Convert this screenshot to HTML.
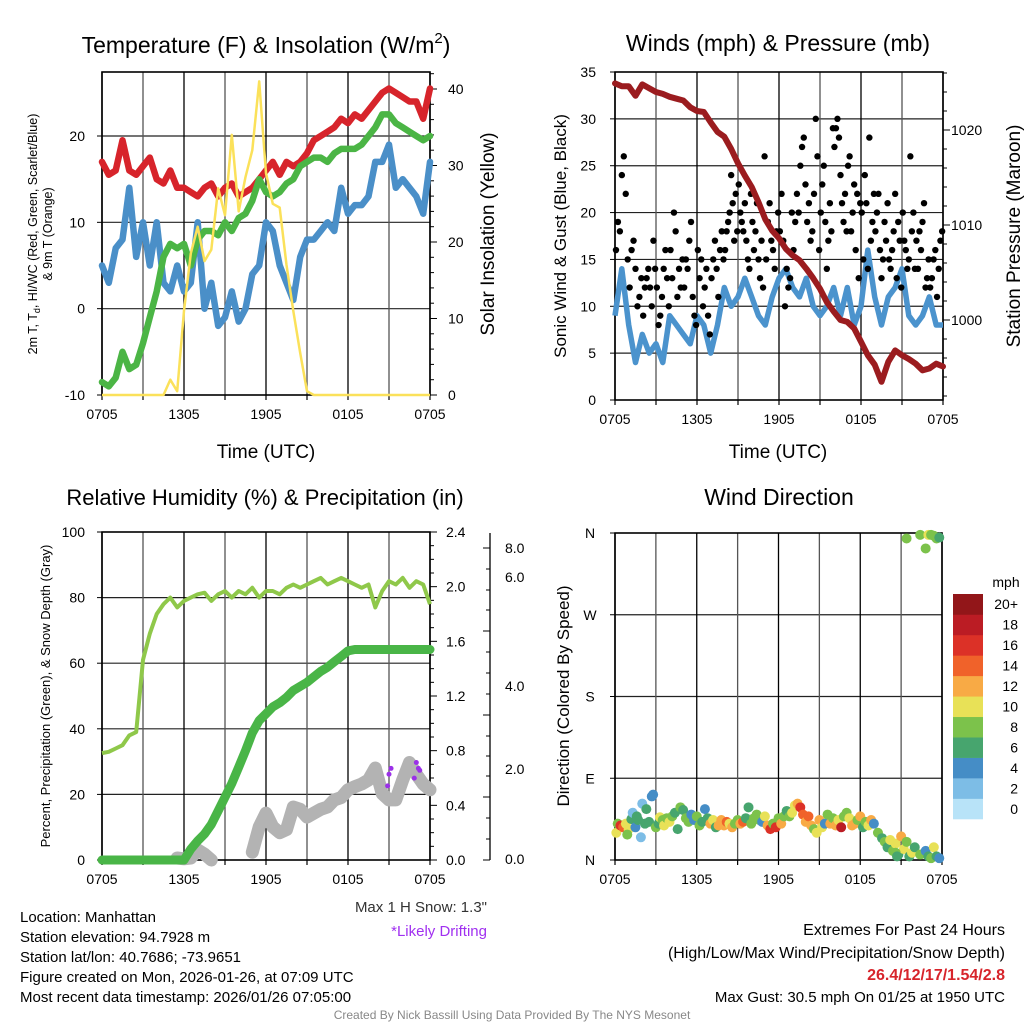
<!DOCTYPE html>
<html><head><meta charset="utf-8"><style>
body{margin:0;background:#fff;}
svg{display:block;font-family:"Liberation Sans",Arial,sans-serif;}
</style></head><body>
<svg id="s" width="1024" height="1024" xmlns="http://www.w3.org/2000/svg"></svg>
<script>
// ---------- DATA ----------
const timeLabels = ["0705","1305","1905","0105","0705"];
const tempRed = [17,15.5,16,19.5,16,15.5,16.5,17.5,15,14.5,16,14,14,13.5,13,14,14.5,13,14,14.5,13,13.5,14,15,16,17,15.5,17,16.5,17,18,19.5,20,20.5,21,22,21.5,22.5,22,23,24,25,25.5,25,24.5,24,24,22,25.5];
const tempGreen = [-8.5,-9,-8,-5,-7,-6.5,-4,-1,2,6,7.5,7,7.5,5,8,9,9,8.5,10,9,10.5,11,12.5,15,13.5,13,13.5,14.5,15,16.5,17,17.5,17.5,17,18,18.5,18.5,18.5,19,20,21,22.5,22.5,21.5,21,20.5,20,19.5,20];
const tempBlue = [5,3,7,8,14,6,10,5,10,3,2,5,2,3,10,0,3,-2,-1,2,-1.5,0,4,5,10,9,5,3,1,6,8,8,9,10,9,14,11,12,12,13,17,17,19,14,15,14,13,11,17];
const insol = [0,0,0,0,0,0,0,0,0,0,2,0.5,11,18.5,22,17.5,19,27,23.5,34,24,28.5,32,41,29,25,24.5,17,11,5.5,0.5,0,0,0,0,0,0,0,0,0,0,0,0,0,0,0,0,0,0];
const windSonic = [9,14,8,4,7,5,6,4,9,8,7,6,9,8,5,8,12,10,11,13,11,9,8,11,13,14,12,11,13,10,9,10,12,9,12,8,10,16,11,8,11,12,14,9,8,9,11,8,8];
const pressure = [1024.9,1024.6,1024.6,1023.6,1024.8,1024.4,1024,1023.8,1023.5,1023.3,1023.1,1022.4,1022,1021.9,1020.8,1019.8,1019.3,1018,1016.5,1015.2,1014,1012.4,1010.6,1009.4,1008.6,1007.5,1006.8,1006.3,1005.4,1004.4,1003.3,1001.9,1000.9,1000,999.8,999.1,997.7,996.3,995.3,993.5,995.6,996.8,996.3,995.9,995.4,994.7,994.9,995.4,995.1];
const gustByHour = [
[16,19,18,24,26,22,15],[12,16,17,14,10,11,13],[9,12,13,14,12,10,17,14],[12,8,9,11,14,16,13,10],
[16,13,20,18,11,14,12,15],[12,15,14,17,19,11,9,8],[16,13,15,10,12,14,9,7],[13,15,17,14,11,16,18,15],
[16,18,19,20,24,21,17,22,18],[23,20,19,18,21,17,15,14,22],[19,16,18,21,15,13,17,12,26],[15,19,21,17,16,14,18,20],
[18,22,17,10,14,12,13,20],[16,19,22,20,25,27,28,23],[19,21,17,18,22,30,26,16],[20,23,25,19,14,17,21,18,29],
[27,29,30,28,24,21,19,22,18],[25,26,18,20,23,16,22,13,21],[20,15,24,21,14,28,17,19,22],[18,20,22,16,13,15,19,17,21],
[15,14,16,18,22,13,19,17,12],[20,17,16,14,15,26,18,20,14],[17,14,18,16,19,21,12,13,15],[12,13,15,16,11,14,17,18]];
const rh = [32.6,33,34,35,38,39,61,69,75,78,80,77,79,80,81,81.5,79,81,82,80,82,81,83,80,82,82,81,83,84,83,84,85,86,84,85,86,85,84,83,84,77,82,85,84,86,83,85,84,78];
const precip = [0,0,0,0,0,0,0,0,0,0,0,0,0,0.08,0.14,0.19,0.26,0.36,0.46,0.56,0.68,0.8,0.93,1.02,1.07,1.12,1.15,1.19,1.24,1.27,1.3,1.34,1.38,1.41,1.45,1.49,1.53,1.54,1.54,1.54,1.54,1.54,1.54,1.54,1.54,1.54,1.54,1.54,1.54];
const snowDepth = [null,null,null,null,null,null,null,null,null,null,null,0.05,0.03,0.05,0.26,0.15,0.0,null,null,null,null,null,0.2,0.85,1.2,0.85,0.7,0.78,1.36,1.3,1.1,1.2,1.3,1.36,1.54,1.6,1.8,1.88,1.95,2.05,2.36,1.7,1.54,1.54,2.05,2.5,2.2,1.95,1.8];
const driftIdx = [42,42.3,41.8,46,46.3,45.7,46.5];
const driftVal = [2.2,2.35,1.9,2.5,2.35,2.1,2.3];
const dirHour = [0.1,0.2,0.4,0.6,0.8,1.0,0.9,1.2,1.3,1.5,1.6,1.7,1.9,2.0,2.2,2.3,2.5,2.7,2.8,3.0,3.2,3.3,3.5,3.6,3.8,4.0,4.2,4.4,4.6,4.8,5.0,5.2,5.4,5.6,5.8,6.0,6.2,6.4,6.6,6.8,7.0,7.2,7.4,7.6,7.8,8.0,8.2,8.4,8.6,8.8,9.0,9.2,9.4,9.6,9.8,10.0,10.2,10.4,10.6,10.8,11.0,11.2,11.4,11.6,11.8,12.0,12.2,12.4,12.6,12.8,13.0,13.2,13.4,13.6,13.8,14.0,14.2,14.4,14.6,14.8,15.0,15.2,15.4,15.6,15.8,16.0,16.2,16.4,16.6,16.8,17.0,17.2,17.4,17.6,17.8,18.0,18.2,18.4,18.6,18.8,19.0,19.3,19.6,19.8,20.0,20.2,20.4,20.6,20.8,21.0,21.2,21.4,21.6,21.8,22.0,22.4,22.8,23.0,23.2,23.4,23.6,23.8,20.6,20.7,21.4,22.4,22.8,23.0,23.2,23.4,23.6,23.8];
const dirDeg = [30,40,38,36,40,34,28,45,52,36,48,44,25,62,40,56,42,70,72,36,40,47,44,38,46,42,48,52,34,58,55,46,42,50,44,48,38,42,56,46,40,44,36,38,44,38,42,40,36,40,44,40,42,46,58,40,46,50,44,42,48,38,34,40,36,46,40,48,54,48,52,60,62,58,50,42,48,38,34,30,44,36,40,50,40,46,38,44,36,48,52,46,38,40,44,48,36,42,38,44,40,30,24,20,14,22,10,18,6,26,12,20,4,8,14,6,10,4,2,14,4,2,8,4,354,358,343,358,358,357,354,355,352,356];
const dirSpd = [10,9,17,14,10,11,8,6,3,4,6,6,2,2,7,6,6,4,4,8,6,10,8,10,8,10,8,6,6,8,6,8,9,4,4,8,8,6,4,6,12,10,6,12,12,12,14,10,12,8,8,12,14,6,6,8,8,8,8,4,10,12,16,8,16,8,12,8,6,8,10,10,12,16,14,12,14,12,8,10,12,10,4,8,12,8,12,10,18,8,8,10,12,12,8,12,6,8,10,12,4,8,6,8,6,10,8,10,6,12,10,8,6,10,6,8,4,6,8,10,6,4,8,6,8,8,8,10,8,8,8,6,8,8];
const cbLabels = ["0","2","4","6","8","10","12","14","16","18","20+"];
const cbColors = ["#b8e3f8","#7dbde6","#458dc6","#47a56e","#7cc24b","#e8e157","#f8aa45","#f0622a","#dc3127","#bb1c24","#921619"];

// ---------- HELPERS ----------
const NS="http://www.w3.org/2000/svg";
const S=document.getElementById('s');
function el(tag,attrs,parent){const e=document.createElementNS(NS,tag);for(const k in attrs)e.setAttribute(k,attrs[k]);(parent||S).appendChild(e);return e;}
function txt(x,y,str,size,anchor,parent,extra){const t=el('text',Object.assign({x:x,y:y,'font-size':size,'text-anchor':anchor||'middle',fill:'#000'},extra||{}),parent);t.textContent=str;return t;}
function lin(d0,d1,r0,r1){return v=>r0+(v-d0)*(r1-r0)/(d1-d0);}
function pathFrom(arr,fx,fy){let d='',pen=false;arr.forEach((v,i)=>{if(v===null||v===undefined){pen=false;return;}d+=(pen?'L':'M')+fx(i).toFixed(1)+' '+fy(v).toFixed(1);pen=true;});return d;}

function frame(g,L,T,R,B){
  const n=8;
  for(let k=0;k<=n;k++){const x=L+(R-L)*k/n;el('line',{x1:x,y1:T,x2:x,y2:B,stroke:k%2?'#555':'#000','stroke-width':1.3},g);
    el('line',{x1:x,y1:B,x2:x,y2:B+5,stroke:'#000','stroke-width':1.2},g);}
  el('rect',{x:L,y:T,width:R-L,height:B-T,fill:'none',stroke:'#000','stroke-width':1.6},g);
  timeLabels.forEach((s,k)=>{const t=txt(L+(R-L)*k/4,B+24,s,14,'middle',g);});
}
function hgrid(g,L,R,ys){ys.forEach(y=>el('line',{x1:L,y1:y,x2:R,y2:y,stroke:'#222','stroke-width':1.2},g));}

// ================= PANEL 1 =================
{
const g=el('g',{});

const L=102,R=430,T=72,B=395;
const fx=lin(0,48,L,R), fy=lin(-10,20,395,136), fyr=lin(0,40,395,89);
hgrid(g,L,R,[fy(0),fy(10),fy(20)]);
frame(g,L,T,R,B);
[20,10,0,-10].forEach(v=>{el('line',{x1:L-5,y1:fy(v),x2:L,y2:fy(v),stroke:'#000'},g);txt(85,fy(v)+5,v,14,'end',g);});
for(let v=0;v<=42;v+=2){el('line',{x1:R,y1:fyr(v),x2:R+(v%10?4:7),y2:fyr(v),stroke:'#000'},g);}
[0,10,20,30,40].forEach(v=>txt(448,fyr(v)+5,v,14,'start',g));
const red=el('path',{d:pathFrom(tempRed,fx,fy),fill:'none',stroke:'#d7242b','stroke-width':6.5,'stroke-linejoin':'round','stroke-linecap':'round'},g);

const blu=el('path',{d:pathFrom(tempBlue,fx,fy),fill:'none',stroke:'#4a8fc8','stroke-width':6.5,'stroke-linejoin':'round','stroke-linecap':'round'},g);

const grn=el('path',{d:pathFrom(tempGreen,fx,fy),fill:'none',stroke:'#4bb545','stroke-width':6.5,'stroke-linejoin':'round','stroke-linecap':'round'},g);

const yel=el('path',{d:pathFrom(insol,fx,fyr),fill:'none',stroke:'#fbe15a','stroke-width':2.5,'stroke-linejoin':'round'},g);

const t1=txt(266,53,'',23,'middle',g);t1.innerHTML='Temperature (F) &amp; Insolation (W/m<tspan font-size="15" dy="-10">2</tspan><tspan dy="10">)</tspan>';

const yl=el('text',{transform:'translate(37,234) rotate(-90)','font-size':12.5,'text-anchor':'middle'},g);
yl.innerHTML='2m T, T<tspan font-size="9" dy="3">d</tspan><tspan dy="-3">, HI/WC (Red, Green, Scarlet/Blue)</tspan>';

const yl2=el('text',{transform:'translate(52,234) rotate(-90)','font-size':12.5,'text-anchor':'middle'},g);yl2.textContent='& 9m T (Orange)';
const yr=el('text',{transform:'translate(494,234) rotate(-90)','font-size':19,'text-anchor':'middle'},g);yr.textContent='Solar Insolation (Yellow)';

const xt=txt(266,458,'Time (UTC)',19,'middle',g);
}

// ================= PANEL 2 =================
{
const g=el('g',{});

const L=615,R=943,T=72,B=400;
const fx=lin(0,48,L,R), fh=lin(0,24,L,R), fy=lin(0,35,400,72), fp=lin(1000,1020,320,130);
hgrid(g,L,R,[5,10,15,20,25,30].map(fy));
frame(g,L,T,R,B);
[0,5,10,15,20,25,30,35].forEach(v=>{el('line',{x1:L-5,y1:fy(v),x2:L,y2:fy(v),stroke:'#000'},g);txt(596,fy(v)+5,v,14,'end',g);});
for(let p=992;p<=1026;p+=2){const y=fp(p);if(y<T||y>B)continue;el('line',{x1:R,y1:y,x2:R+(p%10?4:7),y2:y,stroke:'#000'},g);}
[1000,1010,1020].forEach(p=>txt(951,fp(p)+5,p,14,'start',g));
const wl=el('path',{d:pathFrom(windSonic,fx,fy),fill:'none',stroke:'#4b93cd','stroke-width':5.5,'stroke-linejoin':'round'},g);

gustByHour.forEach((arr,h)=>arr.forEach((v,k)=>{
  const c=el('circle',{cx:fh(h+(k+0.5)/arr.length),cy:fy(v),r:3.2,fill:'#000'},g);
  
  
}));
const pl=el('path',{d:pathFrom(pressure,fx,fp),fill:'none',stroke:'#9b1c1f','stroke-width':6,'stroke-linejoin':'round','stroke-linecap':'round'},g);

const t=txt(778,51,'Winds (mph) & Pressure (mb)',23,'middle',g);
const yl=el('text',{transform:'translate(566,236) rotate(-90)','font-size':17,'text-anchor':'middle'},g);yl.textContent='Sonic Wind & Gust (Blue, Black)';

const yr=el('text',{transform:'translate(1020,236) rotate(-90)','font-size':19,'text-anchor':'middle'},g);yr.textContent='Station Pressure (Maroon)';

const xt=txt(778,458,'Time (UTC)',19,'middle',g);
}

// ================= PANEL 3 =================
{
const g=el('g',{});

const L=102,R=430,T=532,B=860;
const fx=lin(0,48,L,R), fy=lin(0,100,860,532), fr=lin(0,2.4,860,532), fs=lin(0,8,860,548);
hgrid(g,L,R,[20,40,60,80].map(fy));
frame(g,L,T,R,B);
[0,20,40,60,80,100].forEach(v=>{el('line',{x1:L-5,y1:fy(v),x2:L,y2:fy(v),stroke:'#000'},g);txt(85,fy(v)+5,v,14,'end',g);});
for(let v=0;v<=24;v++){el('line',{x1:R,y1:fr(v/10),x2:R+(v%4?4:7),y2:fr(v/10),stroke:'#000'},g);}
['0.0','0.4','0.8','1.2','1.6','2.0','2.4'].forEach((s,k)=>txt(446,fr(k*0.4)+5,s,14,'start',g));
// third axis
el('line',{x1:490,y1:533,x2:490,y2:860,stroke:'#000','stroke-width':1.3},g);
[548,631,715,797,860].forEach(y=>el('line',{x1:483,y1:y,x2:490,y2:y,stroke:'#000'},g));
[569,590,610,652,673,694,736,756,776,818,839].forEach(y=>el('line',{x1:486,y1:y,x2:490,y2:y,stroke:'#000'},g));
[['8.0',553],['6.0',582],['4.0',691],['2.0',774],['0.0',864]].forEach(a=>txt(505,a[1],a[0],14,'start',g));
const sd=el('path',{d:pathFrom(snowDepth,fx,fs),fill:'none',stroke:'#b3b3b3','stroke-width':13,'stroke-linejoin':'round','stroke-linecap':'round'},g);

driftIdx.forEach((v,k)=>{const c=el('circle',{cx:fx(v),cy:fs(driftVal[k]),r:2.5,fill:'#9b30e8'},g);
  
  });
const pr=el('path',{d:pathFrom(precip,fx,fr),fill:'none',stroke:'#49b547','stroke-width':9,'stroke-linejoin':'round','stroke-linecap':'round'},g);

const rl=el('path',{d:pathFrom(rh,fx,fy),fill:'none',stroke:'#8fc84a','stroke-width':4,'stroke-linejoin':'round'},g);

const t=txt(265,505,'Relative Humidity (%) & Precipitation (in)',22,'middle',g);
const yl=el('text',{transform:'translate(50,696) rotate(-90)','font-size':13,'text-anchor':'middle'},g);yl.textContent='Percent, Precipitation (Green), & Snow Depth (Gray)';

}

// ================= PANEL 4 =================
{
const g=el('g',{});

const L=615,R=942,T=533,B=860;
const fh=lin(0,24,L,R), fd=lin(0,360,860,533);
hgrid(g,L,R,[90,180,270].map(fd));
frame(g,L,T,R,B);
['N','E','S','W','N'].forEach((s,k)=>{el('line',{x1:L-5,y1:fd(k*90),x2:L,y2:fd(k*90),stroke:'#000'},g);txt(590,fd(k*90)+5,s,14,'middle',g);});
dirHour.forEach((h,k)=>{
  const bin=Math.min(10,Math.floor(dirSpd[k]/2));
  const c=el('circle',{cx:fh(h),cy:fd(dirDeg[k]),r:5,fill:cbColors[bin]},g);
  
  
});
const t=txt(779,505,'Wind Direction',23,'middle',g);
const yl=el('text',{transform:'translate(569,696) rotate(-90)','font-size':17,'text-anchor':'middle'},g);yl.textContent='Direction (Colored By Speed)';

// colorbar
const cb=el('g',{},g);
const h=(819-594)/11;
cbColors.forEach((c,k)=>{el('rect',{x:953,y:819-(k+1)*h,width:30,height:h+0.3,fill:c},cb);
  txt(1018,819-k*h-h/2+5,cbLabels[k],14,'end',cb);});
txt(1006,587,'mph',14,'middle',cb);
}

// ================= FOOTER TEXT =================
{
const g=el('g',{});

['Location: Manhattan','Station elevation: 94.7928 m','Station lat/lon: 40.7686; -73.9651','Figure created on Mon, 2026-01-26, at 07:09 UTC','Most recent data timestamp: 2026/01/26 07:05:00'].forEach((s,k)=>txt(20,922+k*20,s,15,'start',g));
txt(487,912,'Max 1 H Snow: 1.3"',15,'end',g,{fill:'#333'});
txt(487,936,'*Likely Drifting',15,'end',g,{fill:'#a030f0'});
const ex=el('g',{});
txt(1005,935,'Extremes For Past 24 Hours',16,'end',ex);
txt(1005,958,'(High/Low/Max Wind/Precipitation/Snow Depth)',16,'end',ex);
txt(1005,980,'26.4/12/17/1.54/2.8',16,'end',ex,{fill:'#d7242b','font-weight':'bold'});
txt(1005,1002,'Max Gust: 30.5 mph On 01/25 at 1950 UTC',15,'end',ex);
const cr=txt(512,1019,'Created By Nick Bassill Using Data Provided By The NYS Mesonet',12,'middle',null,{fill:'#888'});

}
</script>
</body></html>
